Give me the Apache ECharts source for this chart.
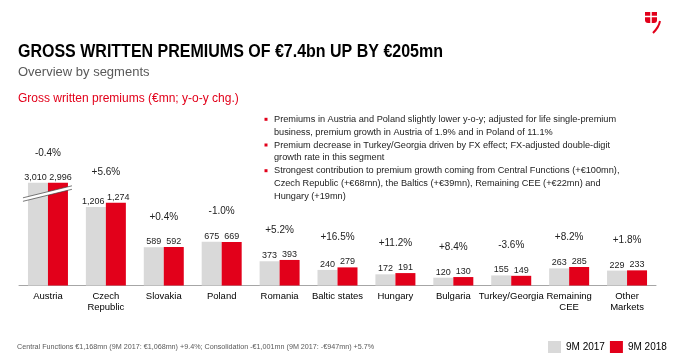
<!DOCTYPE html>
<html><head><meta charset="utf-8">
<script src="https://cdn.jsdelivr.net/npm/echarts@6/dist/echarts.min.js"></script>
<style>html,body{margin:0;padding:0;background:#fff}#c{width:674px;height:357px}</style>
</head><body><div id="c"></div>
<script>
const categories = ['Austria','Czech\nRepublic','Slovakia','Poland','Romania','Baltic states','Hungary','Bulgaria','Turkey/Georgia','Remaining\nCEE','Other\nMarkets'];
const gwp2017 = [3010,1206,589,675,373,240,172,120,155,263,229];
const gwp2018 = [2996,1274,592,669,393,279,191,130,149,285,233];
const yoyChange = ['-0.4%','+5.6%','+0.4%','-1.0%','+5.2%','+16.5%','+11.2%','+8.4%','-3.6%','+8.2%','+1.8%'];
const seriesNames = ['9M 2017','9M 2018'];
const titleText = 'GROSS WRITTEN PREMIUMS OF €7.4bn UP BY €205mn';
const subtitleText = 'Overview by segments';
const chartLabel = 'Gross written premiums (€mn; y-o-y chg.)';
const bullets = [
  ['Premiums in Austria and Poland slightly lower y-o-y; adjusted for life single-premium',
   'business, premium growth in Austria of 1.9% and in Poland of 11.1%'],
  ['Premium decrease in Turkey/Georgia driven by FX effect; FX-adjusted double-digit',
   'growth rate in this segment'],
  ['Strongest contribution to premium growth coming from Central Functions (+€100mn),',
   'Czech Republic (+€68mn), the Baltics (+€39mn), Remaining CEE (+€22mn) and',
   'Hungary (+19mn)']
];
const footnote = 'Central Functions €1,168mn (9M 2017: €1,068mn) +9.4%; Consolidation -€1,001mn (9M 2017: -€947mn) +5.7%';

// axis break: values above this are drawn truncated
const breakCap = 1580;

const FONT = '"Liberation Sans", Arial, sans-serif';
const RED = '#e2001a';
const GRAY = '#d9d9d9';

const disp17 = gwp2017.map(v => Math.min(v, breakCap));
const disp18 = gwp2018.map(v => Math.min(v, breakCap));
const fmt = v => v.toLocaleString('en-US');

function measure(text, font) {
  const ctx = document.createElement('canvas').getContext('2d');
  ctx.font = font;
  return ctx.measureText(text).width;
}
const titleFont = 'bold 18px ' + FONT;
const titleScale = 425 / measure(titleText, titleFont);

const graphics = [
  {type:'text', x:18, y:52, scaleX:titleScale, style:{text:titleText, font:titleFont, fill:'#000', align:'left', verticalAlign:'middle'}},
  {type:'text', x:18, y:72.5, style:{text:subtitleText, font:'13px ' + FONT, fill:'#595959', align:'left', verticalAlign:'middle'}},
  {type:'text', x:18, y:98.5, style:{text:chartLabel, font:'12px ' + FONT, fill:RED, align:'left', verticalAlign:'middle'}},
  {type:'text', x:17, y:347, style:{text:footnote, font:'7.2px ' + FONT, fill:'#595959', align:'left', verticalAlign:'middle'}},
  // logo
  {type:'group', x:645, y:12, children:[
    {type:'rect', shape:{x:0, y:0, width:12, height:11, r:[0,0,3,3]}, style:{fill:RED}},
    {type:'line', shape:{x1:6, y1:0, x2:6, y2:11}, style:{stroke:'#fff', lineWidth:1.5}},
    {type:'line', shape:{x1:0, y1:4.5, x2:12, y2:4.5}, style:{stroke:'#fff', lineWidth:1.5}},
    {type:'bezierCurve', shape:{x1:15, y1:9, cpx1:14, cpy1:15, x2:8, y2:21}, style:{stroke:RED, lineWidth:2, fill:null}}
  ]}
];
let lineY = 119.3;
const lineH = 12.85;
bullets.forEach(b => {
  graphics.push({type:'rect', shape:{x:264.5, y:lineY - 1.5, width:3, height:3}, style:{fill:RED}});
  b.forEach(t => {
    graphics.push({type:'text', x:274, y:lineY, style:{text:t, font:'9.2px ' + FONT, fill:'#222', align:'left', verticalAlign:'middle'}});
    lineY += lineH;
  });
});

// spread apart labels of wide (4-digit) values so they don't overlap
const barData = (disp, raw, dir) => disp.map((v, i) => {
  const wide = Math.max(gwp2017[i], gwp2018[i]) >= 1000;
  return {value: v, label: {offset: [wide ? dir * 2.5 : 0, 0]}};
});

const growthData = categories.map((c, i) => [i, Math.max(disp17[i], disp18[i])]);
const breakData = categories.map((c, i) => [i, breakCap]).filter((d, i) => gwp2017[i] > breakCap || gwp2018[i] > breakCap);

const chart = echarts.init(document.getElementById('c'), null, {renderer:'canvas'});
chart.setOption({
  animation: false,
  backgroundColor: '#fff',
  textStyle: {fontFamily: FONT},
  grid: {left:19, right:18, top:155.5, bottom:71.5, containLabel:false, outerBoundsMode:'none'},
  legend: {
    data: seriesNames, left:548, top:341, itemWidth:13, itemHeight:12, itemGap:5, padding:0,
    icon:'rect', textStyle:{fontSize:10, color:'#000', fontFamily:FONT}
  },
  xAxis: {
    type:'category', data:categories,
    axisLine:{lineStyle:{color:'#a6a6a6', width:1}},
    axisTick:{show:false},
    axisLabel:{interval:0, fontSize:9.5, color:'#000', margin:5, lineHeight:11.5, fontFamily:FONT}
  },
  yAxis: {type:'value', min:0, max:2000, show:false, splitLine:{show:false}},
  series: [
    {name:seriesNames[0], type:'bar', data:barData(disp17, gwp2017, -1), barWidth:20, barGap:'0%', itemStyle:{color:GRAY},
     label:{show:true, position:'top', distance:1, fontSize:9, color:'#222', fontFamily:FONT, formatter:p => fmt(gwp2017[p.dataIndex])}},
    {name:seriesNames[1], type:'bar', data:barData(disp18, gwp2018, 1), barWidth:20, barGap:'0%', itemStyle:{color:RED},
     label:{show:true, position:'top', distance:1, fontSize:9, color:'#222', fontFamily:FONT, formatter:p => fmt(gwp2018[p.dataIndex])}},
    {type:'custom', data:breakData, z:5, renderItem:(params, api) => {
      const p = api.coord([api.value(0), api.value(1)]);
      const x = p[0], y = p[1];
      const a = [x - 25, y + 15], b = [x + 24, y + 3];
      const g = 3.5;
      return {type:'group', children:[
        {type:'polygon', shape:{points:[a, b, [b[0], b[1] + g], [a[0], a[1] + g]]}, style:{fill:'#fff'}},
        {type:'line', shape:{x1:a[0], y1:a[1], x2:b[0], y2:b[1]}, style:{stroke:'#404040', lineWidth:0.7}},
        {type:'line', shape:{x1:a[0], y1:a[1] + g, x2:b[0], y2:b[1] + g}, style:{stroke:'#404040', lineWidth:0.7}}
      ]};
    }},
    {type:'custom', data:growthData, z:5, renderItem:(params, api) => {
      const i = api.value(0);
      const p = api.coord([i, api.value(1)]);
      return {type:'text', x:p[0], y:p[1] - 30, style:{text:yoyChange[i], font:'10px ' + FONT, fill:'#222', align:'center', verticalAlign:'middle'}};
    }}
  ],
  graphic: graphics
});
</script></body></html>
